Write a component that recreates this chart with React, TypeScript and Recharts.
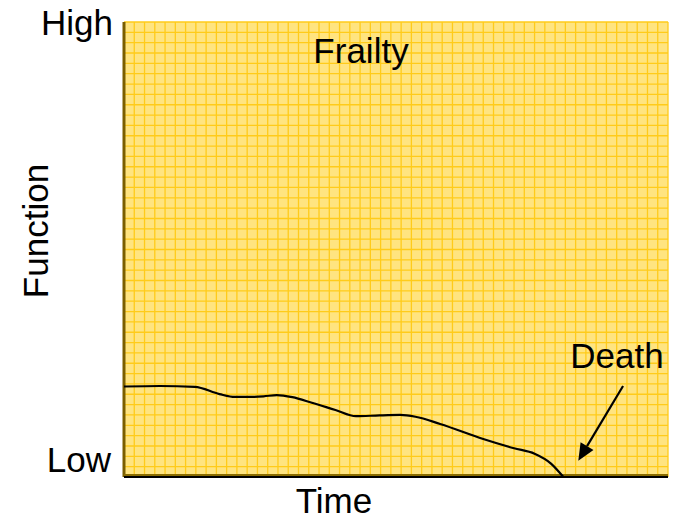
import React from 'react';
import { ComposedChart, Line, XAxis, YAxis, CartesianGrid, ReferenceLine } from 'recharts';

// time (grid units) and function level (grid units)
const timePoints = [0, 3.5, 6.9, 9.3, 10.8, 12.3, 13.6, 14.9, 16.4, 18.3, 20.6, 22.6, 24.9, 26.9, 28.4, 30.8, 35.0, 38.0, 40.0, 41.6, 42.77];
const functionValues = [8.75, 8.8, 8.72, 8.02, 7.74, 7.74, 7.8, 7.92, 7.72, 7.18, 6.48, 5.88, 5.96, 6.0, 5.83, 5.13, 3.68, 2.78, 2.25, 1.3, 0.05];
const xTicks = Array.from({ length: 54 }, (_, i) => i);
const yTicks = Array.from({ length: 45 }, (_, i) => i);
const arrowFrom = { x: 48.62, y: 8.8 };
const arrowTo = { x: 44.26, y: 1.58 };
const yTickLabels = ['High', 'Low'];
const axisTitles = { x: 'Time', y: 'Function' };
const annotations = ['Frailty', 'Death'];

const data = timePoints.map((t, i) => ({ t, f: functionValues[i] }));

const FONT = 'Liberation Sans, Arial, sans-serif';

const ArrowShape = (props: any) => {
  const { x1, y1, x2, y2 } = props;
  const dx = x2 - x1;
  const dy = y2 - y1;
  const len = Math.sqrt(dx * dx + dy * dy) || 1;
  const ux = dx / len;
  const uy = dy / len;
  const headLen = 17;
  const headW = 7.5;
  const bx = x2 - ux * headLen;
  const by = y2 - uy * headLen;
  const px = -uy;
  const py = ux;
  return (
    <g>
      <line x1={x1} y1={y1} x2={bx} y2={by} stroke="#000" strokeWidth={2.2} />
      <polygon
        points={`${x2},${y2} ${bx + px * headW},${by + py * headW} ${bx - px * headW},${by - py * headW}`}
        fill="#000"
      />
    </g>
  );
};

export default function App() {
  return (
    <div style={{ position: 'absolute', left: 0, top: 0, width: 673, height: 523, background: '#fff' }}>
      <ComposedChart width={673} height={523} data={data} margin={{ top: 22, right: 5, bottom: 46, left: 124 }}>
        <XAxis dataKey="t" type="number" domain={[0, 53]} ticks={xTicks} interval={0} hide />
        <YAxis type="number" domain={[0, 44]} ticks={yTicks} interval={0} hide />
        <CartesianGrid fill="#FFE480" stroke="#FFCB1A" strokeWidth={1.3} strokeOpacity={1} />
        <ReferenceLine x={0} stroke="#7A5E00" strokeWidth={3} />
        <ReferenceLine y={0.15} stroke="#8A6C00" strokeWidth={3} />
        <ReferenceLine y={0} stroke="#000" strokeWidth={2} />
        <Line
          dataKey="f"
          type="monotone"
          stroke="#000"
          strokeWidth={2.2}
          dot={false}
          isAnimationActive={false}
        />
        <ReferenceLine
          segment={[arrowFrom, arrowTo]}
          shape={ArrowShape}
          stroke="#000"
        />
      </ComposedChart>
      <svg
        width={673}
        height={523}
        style={{ position: 'absolute', left: 0, top: 0, pointerEvents: 'none' }}
        fontFamily={FONT}
        fontSize={35}
        fill="#000"
      >
        <text x={113} y={35} textAnchor="end">{yTickLabels[0]}</text>
        <text x={111} y={472} textAnchor="end">{yTickLabels[1]}</text>
        <text x={334} y={513} textAnchor="middle">{axisTitles.x}</text>
        <text x={48} y={231} textAnchor="middle" transform="rotate(-90 48 231)">{axisTitles.y}</text>
        <text x={361} y={63} textAnchor="middle">{annotations[0]}</text>
        <text x={617} y={368} textAnchor="middle">{annotations[1]}</text>
      </svg>
    </div>
  );
}
